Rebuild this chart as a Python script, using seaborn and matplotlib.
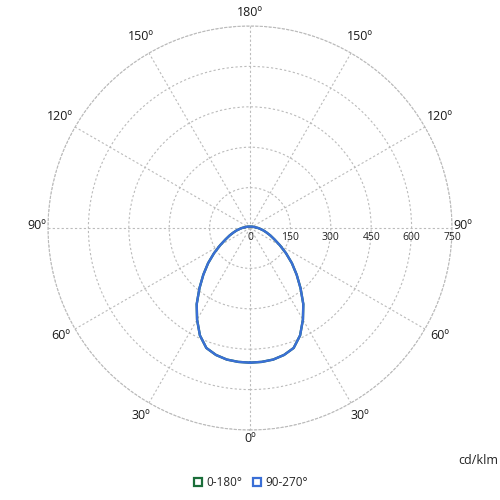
import numpy as np
import pandas as pd
import matplotlib
matplotlib.use("Agg")
import matplotlib.pyplot as plt
from matplotlib.lines import Line2D
import seaborn as sns

# intensity (cd/klm) vs. gamma angle, one half of the curve (symmetric)
GAMMA = [0, 5, 10, 15, 20, 25, 30, 35, 40, 45, 50, 55, 60, 65, 70, 75, 80, 85,
         90, 100, 120, 150, 180]
C0_180 = [500, 499, 496, 488, 474, 440, 393, 345, 292, 245, 203, 163, 128, 100,
          80, 63, 50, 38, 30, 18, 10, 6, 5]
C90_270 = [500, 499, 496, 488, 474, 440, 393, 345, 292, 245, 203, 163, 128, 100,
           80, 63, 50, 38, 30, 18, 10, 6, 5]
R_TICKS = [0, 150, 300, 450, 600, 750]
ANGLE_TICKS = list(range(0, 360, 30))
SERIES = ["0-180°", "90-270°"]
COLORS = ["#1b6e3a", "#3a6fd6"]


def full_curve(vals):
    ang = GAMMA + [360 - g for g in GAMMA[::-1][1:]]
    v = vals + vals[::-1][1:]
    return np.deg2rad(ang), v


sns.set_style("white")
plt.rcParams["font.family"] = ["Open Sans", "DejaVu Sans"]

fig = plt.figure(figsize=(5, 5), dpi=100)
ax = fig.add_axes([0.096, 0.14, 0.808, 0.808], projection="polar")
ax.set_theta_zero_location("S")
ax.set_theta_direction(1)

for name, vals, col in zip(SERIES, [C0_180, C90_270], COLORS):
    th, r = full_curve(vals)
    df = pd.DataFrame({"theta": th, "r": r})
    sns.lineplot(data=df, x="theta", y="r", ax=ax, sort=False, color=col,
                 linewidth=1.7, estimator=None)

ax.set_xlabel("")
ax.set_ylabel("")
ax.set_ylim(0, 750)
ax.set_yticks(R_TICKS)
ax.set_yticklabels([])
ax.set_thetagrids(ANGLE_TICKS, [""] * len(ANGLE_TICKS))
ax.grid(True, color="#bbbbbb", linestyle=(0, (2, 2)), linewidth=0.8)
ax.spines["polar"].set_color("#bbbbbb")
ax.spines["polar"].set_linestyle((0, (2, 2)))
ax.spines["polar"].set_linewidth(0.8)

# angle labels around the outside (mirrored: 0..180 on both sides)
px = 750 / 202
for a in ANGLE_TICKS:
    lab = f"{a if a <= 180 else 360 - a}º"
    rr = (213 + 7 * abs(np.sin(np.deg2rad(2 * a)))) * px
    ax.annotate(lab, xy=(np.deg2rad(a), rr), xytext=(0, 1.5), textcoords="offset points",
                ha="center", va="center", fontsize=9, color="#1a1a1a",
                annotation_clip=False)

for v in R_TICKS:
    ax.annotate(str(v), xy=(np.pi / 2, v), xytext=(0, -3), textcoords="offset points",
                ha="center", va="top", fontsize=7.5, color="#222222")

fig.text(0.996, 0.078, "cd/klm", ha="right", va="center", fontsize=9, color="#222222")

handles = [Line2D([], [], linestyle="none", marker="s", markersize=5.5,
                  markerfacecolor="white", markeredgecolor=c, markeredgewidth=1.6)
           for c in COLORS]
fig.legend(handles, SERIES, loc="center", bbox_to_anchor=(0.5, 0.034), ncol=2,
           frameon=False, fontsize=8.5, handletextpad=0.25, columnspacing=0.7,
           handlelength=1.0)

fig.savefig("out.png", dpi=100)
